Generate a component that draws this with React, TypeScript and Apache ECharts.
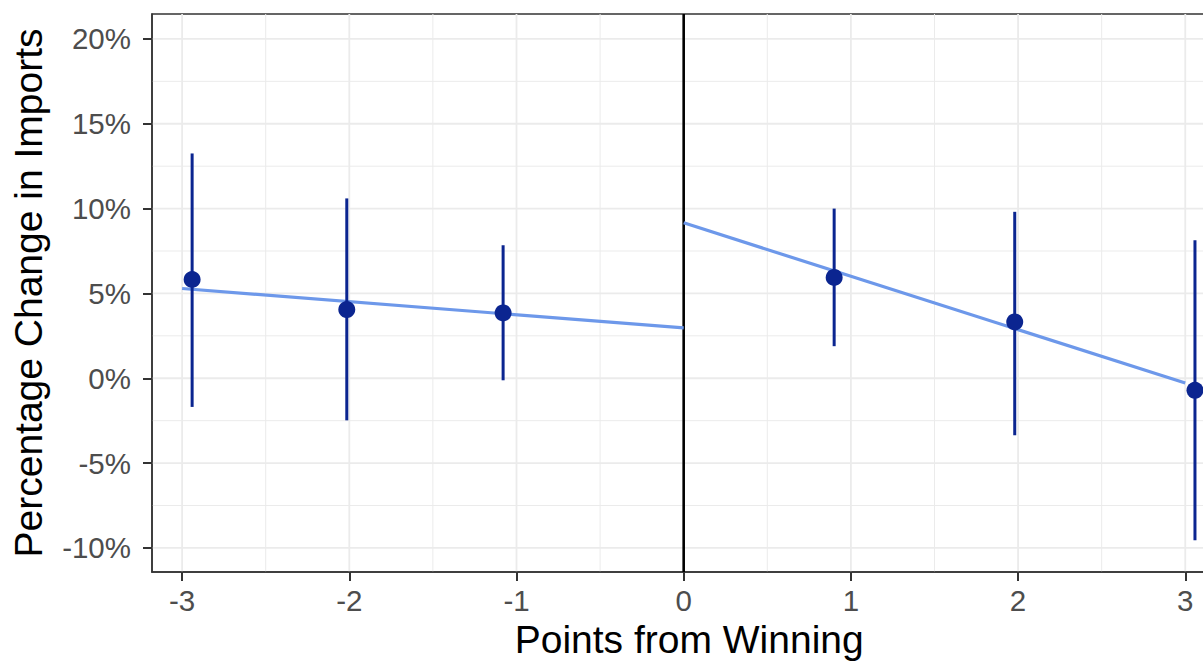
import React, { useEffect, useRef } from "react";
import * as echarts from "echarts";

const pointX = [-2.94, -2.015, -1.08, 0.9, 1.98, 3.058];
const pointY = [5.82, 4.05, 3.85, 5.94, 3.32, -0.71];
const ciLow = [-1.69, -2.48, -0.12, 1.89, -3.36, -9.55];
const ciHigh = [13.25, 10.6, 7.84, 10.0, 9.81, 8.14];
const fitLeftX = [-3, 0];
const fitLeftY = [5.29, 2.97];
const fitRightX = [0, 3];
const fitRightY = [9.16, -0.28];
const xTicks = [-3, -2, -1, 0, 1, 2, 3];
const xMinor = [-2.5, -1.5, -0.5, 0.5, 1.5, 2.5];
const yTicks = [-10, -5, 0, 5, 10, 15, 20];
const yMinor = [-7.5, -2.5, 2.5, 7.5, 12.5, 17.5];
const zeroLine = [0];

const NAVY = "#0b2590";
const FIT = "#6d98ea";
const GRID = "#ebebeb";
const FONT = "Liberation Sans, Arial, Helvetica, sans-serif";

function hLines(values: number[], width: number, color: string, z: number) {
  return {
    type: "custom",
    silent: true,
    z,
    data: values.map((v) => [0, v]),
    renderItem: (params: any, api: any) => {
      const cs = params.coordSys;
      const y = api.coord([0, api.value(1)])[1];
      return {
        type: "line",
        shape: { x1: cs.x, y1: y, x2: cs.x + cs.width, y2: y },
        style: { stroke: color, lineWidth: width },
      };
    },
  };
}

function vLines(values: number[], width: number, color: string, z: number) {
  return {
    type: "custom",
    silent: true,
    z,
    data: values.map((v) => [v, 0]),
    renderItem: (params: any, api: any) => {
      const cs = params.coordSys;
      const x = api.coord([api.value(0), 0])[0];
      return {
        type: "line",
        shape: { x1: x, y1: cs.y, x2: x, y2: cs.y + cs.height },
        style: { stroke: color, lineWidth: width },
      };
    },
  };
}

export default function App() {
  const ref = useRef<HTMLDivElement>(null);
  useEffect(() => {
    if (!ref.current) return;
    const chart = echarts.init(ref.current, undefined, { renderer: "svg" });
    chart.setOption({
      animation: false,
      backgroundColor: "#ffffff",
      textStyle: { fontFamily: FONT },
      grid: {
        left: 152,
        top: 14,
        right: 13.6,
        bottom: 92,
        show: true,
        borderColor: "#333333",
        borderWidth: 1.5,
        backgroundColor: "transparent",
      },
      xAxis: {
        type: "value",
        min: -3.18,
        max: 3.246,
        name: "Points from Winning",
        nameLocation: "middle",
        nameGap: 23,
        nameTextStyle: { fontSize: 39, color: "#000000", fontFamily: FONT },
        axisLine: { show: true, onZero: false, lineStyle: { color: "#333333", width: 1.5 } },
        axisTick: { show: true, length: 9, customValues: xTicks, lineStyle: { color: "#333333", width: 2 } },
        axisLabel: { customValues: xTicks, fontSize: 29.5, color: "#4d4d4d", margin: 13, fontFamily: FONT },
        splitLine: { show: false },
      },
      yAxis: {
        type: "value",
        min: -11.42,
        max: 21.47,
        name: "Percentage Change in Imports",
        nameLocation: "middle",
        nameGap: 104,
        nameTextStyle: { fontSize: 39, color: "#000000", fontFamily: FONT },
        axisLine: { show: true, onZero: false, lineStyle: { color: "#333333", width: 1.5 } },
        axisTick: { show: true, length: 9, customValues: yTicks, lineStyle: { color: "#333333", width: 2 } },
        axisLabel: {
          customValues: yTicks,
          fontSize: 29.5,
          color: "#4d4d4d",
          margin: 21,
          fontFamily: FONT,
          formatter: (v: number) => `${v}%`,
        },
        splitLine: { show: false },
      },
      series: [
        hLines(yMinor, 1.0, GRID, 0),
        vLines(xMinor, 1.0, GRID, 0),
        hLines(yTicks, 1.8, GRID, 0),
        vLines(xTicks, 1.8, GRID, 0),
        vLines(zeroLine, 2.6, "#000000", 1),
        {
          type: "line",
          z: 2,
          showSymbol: false,
          silent: true,
          data: fitLeftX.map((x, i) => [x, fitLeftY[i]]),
          lineStyle: { color: FIT, width: 3.2 },
        },
        {
          type: "line",
          z: 2,
          showSymbol: false,
          silent: true,
          data: fitRightX.map((x, i) => [x, fitRightY[i]]),
          lineStyle: { color: FIT, width: 3.2 },
        },
        {
          type: "custom",
          z: 3,
          silent: true,
          data: pointX.map((x, i) => [x, ciLow[i], ciHigh[i]]),
          renderItem: (params: any, api: any) => {
            const lo = api.coord([api.value(0), api.value(1)]);
            const hi = api.coord([api.value(0), api.value(2)]);
            return {
              type: "line",
              shape: { x1: lo[0], y1: lo[1], x2: hi[0], y2: hi[1] },
              style: { stroke: NAVY, lineWidth: 3 },
            };
          },
        },
        {
          type: "scatter",
          z: 4,
          silent: true,
          symbolSize: 17,
          data: pointX.map((x, i) => [x, pointY[i]]),
          itemStyle: { color: NAVY, opacity: 1 },
        },
      ],
    });
    return () => chart.dispose();
  }, []);
  return (
    <div
      style={{
        position: "absolute",
        left: 0,
        top: 0,
        width: 1203,
        height: 664,
        overflow: "hidden",
        background: "#ffffff",
      }}
    >
      <div ref={ref} style={{ width: 1240, height: 664 }} />
    </div>
  );
}
